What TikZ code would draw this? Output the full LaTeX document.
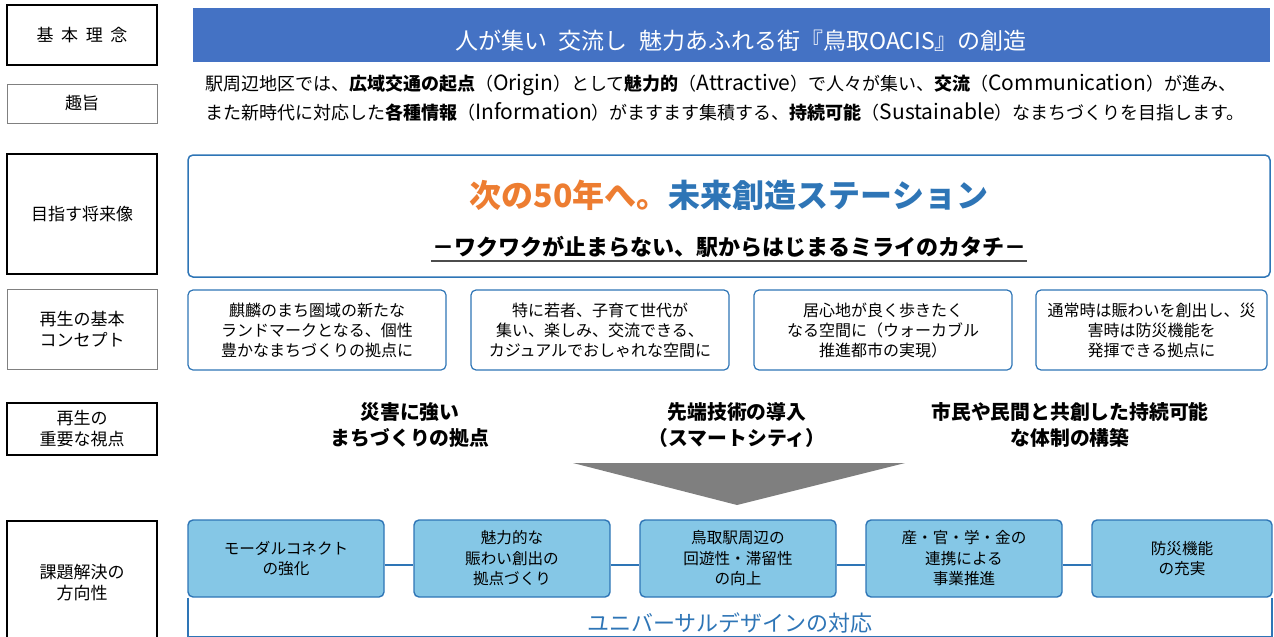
\documentclass[tikz,border=0pt]{standalone}
\usepackage{fontspec}
\setmainfont{Noto Sans CJK JP}
\usetikzlibrary{positioning}
\definecolor{bannerblue}{HTML}{4472C4}
\definecolor{lineblue}{HTML}{2E75B6}
\definecolor{skyfill}{HTML}{85C7E6}
\definecolor{titleorange}{HTML}{ED7D31}
\definecolor{arrowgray}{HTML}{7F7F7F}
\newcommand{\latinword}[1]{{\fontsize{21}{20}\selectfont #1}}

\begin{document}
\begin{tikzpicture}[x=1pt, y=-1pt,
    labelbox/.style={draw=black, line width=1.8pt, minimum width=150pt, inner sep=0pt, align=center, font=\fontsize{17}{21}\selectfont},
    thinlabel/.style={labelbox, draw=gray, line width=0.8pt},
    conceptbox/.style={draw=lineblue, line width=1.2pt, rounded corners=5pt, minimum height=80pt, inner sep=0pt, align=center, font=\fontsize{16}{20}\selectfont},
    taskbox/.style={conceptbox, fill=skyfill, line width=1.4pt, minimum height=77pt, font=\fontsize{15.6}{20.5}\selectfont},
    pointtext/.style={align=center, inner sep=0pt, font=\bfseries\fontsize{19.8}{26}\selectfont},
    introline/.style={anchor=west, inner sep=0pt, font=\fontsize{18}{20}\selectfont}]
    \useasboundingbox (0,0) rectangle (1274,637);
    % left column
    \node[labelbox, minimum height=60pt] (kihon) at (82,35) {基\hspace{0.45em}本\hspace{0.45em}理\hspace{0.45em}念};
    \node[thinlabel, minimum height=39pt] (shushi) at (82,103.5) {趣旨};
    \node[labelbox, minimum height=120pt] (shorai) at (82,214) {目指す将来像};
    \node[thinlabel, minimum height=80pt] (concept) at (82,329) {再生の基本\\コンセプト};
    \node[labelbox, minimum height=52pt] (shiten) at (82,429) {再生の\\重要な視点};
    \node[labelbox, minimum height=124pt] (hoko) at (82,583) {課題解決の\\方向性};
    % philosophy
    \node[fill=bannerblue, minimum width=1077pt, minimum height=54pt, inner sep=0pt] (banner) at (731.5,35) {};
    \node[text=white, inner sep=0pt, font=\fontsize{23}{26}\selectfont] (bannertext) at (741,41) {人が集い\enspace 交流し\enspace 魅力あふれる街『鳥取OACIS』の創造};
    \node[introline] (intro1) at (205,85) {駅周辺地区では、{\bfseries 広域交通の起点}（\latinword{Origin}）として{\bfseries 魅力的}（\latinword{Attractive}）で人々が集い、{\bfseries 交流}（\latinword{Communication}）が進み、};
    \node[introline] (intro2) at (205,112) {また新時代に対応した{\bfseries 各種情報}（\latinword{Information}）がますます集積する、{\bfseries 持続可能}（\latinword{Sustainable}）なまちづくりを目指します。};
    % vision
    \node[conceptbox, line width=1.5pt, minimum width=1082pt, minimum height=122pt] (vision) at (729,216) {};
    \node[font=\bfseries\fontsize{32}{36}\selectfont] (title) at (729,195) {\textcolor{titleorange}{次の50年へ。}\textcolor{lineblue}{未来創造ステーション}};
    \node[inner sep=1pt, font=\bfseries\fontsize{22}{24}\selectfont] (motto) at (729,247) {－ワクワクが止まらない、駅からはじまるミライのカタチ－};
    \draw[line width=1.5pt, black!70] ([yshift=-2pt]motto.south west) -- ([yshift=-2pt]motto.south east);
    % concepts
    \node[conceptbox, minimum width=258pt] (c1) at (317,330) {麒麟のまち圏域の新たな\\ランドマークとなる、個性\\豊かなまちづくりの拠点に};
    \node[conceptbox, minimum width=258pt] (c2) at (600,330) {特に若者、子育て世代が\\集い、楽しみ、交流できる、\\カジュアルでおしゃれな空間に};
    \node[conceptbox, minimum width=258pt] (c3) at (883,330) {居心地が良く歩きたく\\なる空間に（ウォーカブル\\推進都市の実現）};
    \node[conceptbox, minimum width=231pt] (c4) at (1151.5,330) {通常時は賑わいを創出し、災\\害時は防災機能を\\発揮できる拠点に};
    % viewpoints
    \node[pointtext] (p1) at (410,425) {災害に強い\\まちづくりの拠点};
    \node[pointtext] (p2) at (737,425) {先端技術の導入\\（スマートシティ）};
    \node[pointtext] (p3) at (1070,425) {市民や民間と共創した持続可能\\な体制の構築};
    \fill[arrowgray] (573,463) -- (905,463) -- (737,505) -- cycle;
    % directions
    \node[taskbox, minimum width=196pt] (t1) at (286,558.5) {モーダルコネクト\\の強化};
    \node[taskbox, minimum width=196pt] (t2) at (512,558.5) {魅力的な\\賑わい創出の\\拠点づくり};
    \node[taskbox, minimum width=196pt] (t3) at (738,558.5) {鳥取駅周辺の\\回遊性・滞留性\\の向上};
    \node[taskbox, minimum width=196pt] (t4) at (964,558.5) {産・官・学・金の\\連携による\\事業推進};
    \node[taskbox, minimum width=180pt] (t5) at (1182,558.5) {防災機能\\の充実};
    \draw[lineblue, line width=1.5pt] ([xshift=0.7pt]t1.south west) -- ++(0,39) -| ([xshift=-0.7pt]t5.south east);
    \foreach \a/\b in {t1/t2,t2/t3,t3/t4,t4/t5}
        \draw[lineblue, line width=1.5pt] ([yshift=-6.5pt]\a.east) -- ([yshift=-6.5pt]\b.west);
    \node[text=lineblue, font=\fontsize{22}{26}\selectfont] (universal) at (730,623) {ユニバーサルデザインの対応};
\end{tikzpicture}
\end{document}
